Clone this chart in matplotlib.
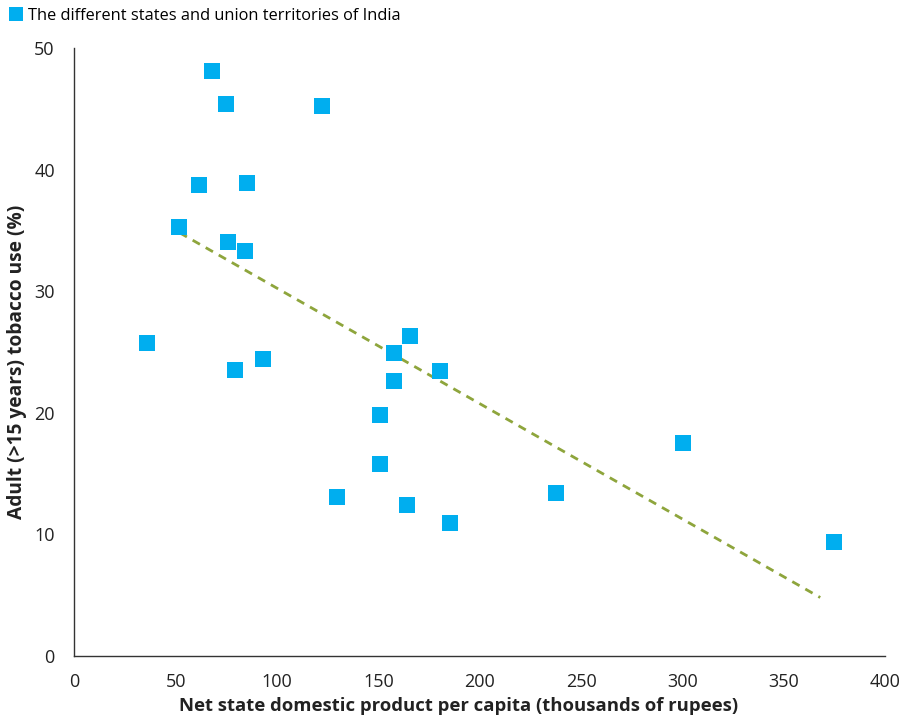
import matplotlib
matplotlib.use("Agg")
import matplotlib.pyplot as plt
from matplotlib.lines import Line2D

plt.rcParams['font.family'] = ['Open Sans', 'DejaVu Sans']

# net state domestic product per capita (thousands of rupees)
nsdp = [36, 51.7, 61.6, 68, 74.9, 75.9, 79.3, 84.2, 85.2, 93.1, 122.2, 129.6,
        150.7, 150.7, 157.6, 157.6, 164, 165.5, 180.3, 185.2, 237.9, 300.5, 374.9]
# adult (>15 years) tobacco use (%)
tobacco = [25.7, 35.3, 38.7, 48.1, 45.4, 34.0, 23.5, 33.3, 38.9, 24.4, 45.2, 13.1,
           19.8, 15.8, 24.9, 22.6, 12.4, 26.3, 23.4, 10.9, 13.4, 17.5, 9.4]

# trend line end points
trend_x = [52, 368]
trend_y = [34.8, 4.8]

legend_label = "The different states and union territories of India"
xticks = [0, 50, 100, 150, 200, 250, 300, 350, 400]
yticks = [0, 10, 20, 30, 40, 50]

blue = "#00aeef"
green = "#8ea53c"

fig = plt.figure(figsize=(9.05, 7.16), dpi=100)
ax = fig.add_axes([0.082, 0.084, 0.896, 0.849])

ax.plot(trend_x, trend_y, linestyle=(0, (3, 2.4)), color=green, linewidth=2, zorder=2)
ax.scatter(nsdp, tobacco, marker='s', s=128, color=blue, linewidths=0, zorder=3)

ax.set_xlim(0, 400)
ax.set_ylim(0, 50)
ax.set_xticks(xticks)
ax.set_yticks(yticks)
ax.tick_params(length=0, labelsize=13, colors="#222222")
ax.tick_params(axis="x", pad=12)
ax.tick_params(axis="y", pad=14)

for s in ["top", "right"]:
    ax.spines[s].set_visible(False)
for s in ["left", "bottom"]:
    ax.spines[s].set_color("#333333")
    ax.spines[s].set_linewidth(1)

ax.set_xlabel("Net state domestic product per capita (thousands of rupees)",
              fontsize=13.3, fontweight="bold", color="#222222")
ax.set_ylabel("Adult (>15 years) tobacco use (%)",
              fontsize=13.8, fontweight="bold", color="#222222")
ax.xaxis.set_label_coords(0.474, -0.067)
ax.yaxis.set_label_coords(-0.058, 0.483)

handle = Line2D([0], [0], marker='s', color='w', markerfacecolor=blue,
                markeredgewidth=0, markersize=10.5, linewidth=0, label=legend_label)
fig.legend(handles=[handle], loc="upper left", bbox_to_anchor=(0.0, 1.0),
           frameon=False, fontsize=11.8, handletextpad=0.2, borderaxespad=0.1,
           handlelength=1.0)

fig.savefig("out.png", dpi=100)
